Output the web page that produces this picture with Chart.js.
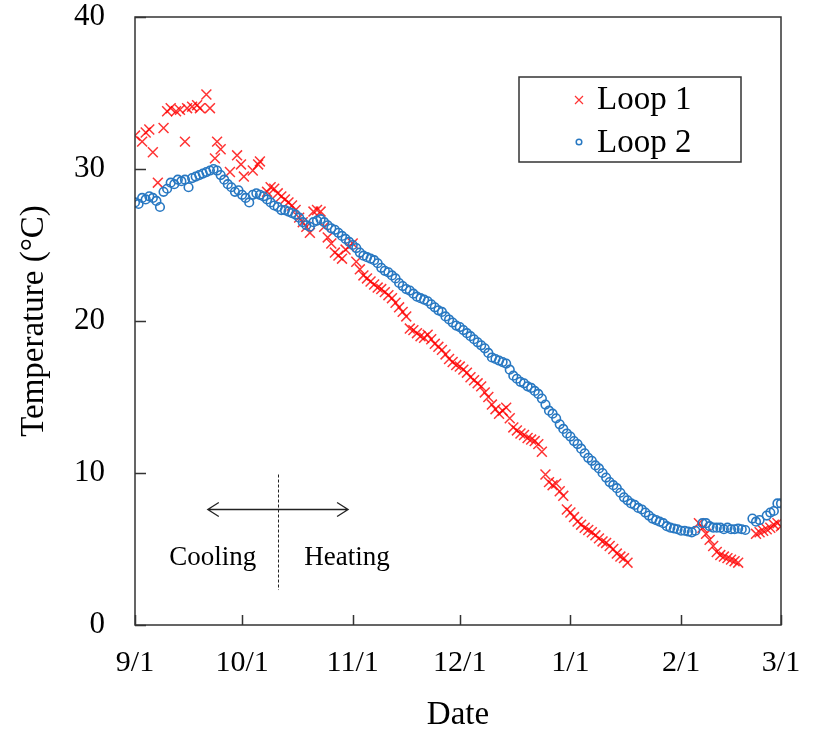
<!DOCTYPE html>
<html>
<head>
<meta charset="utf-8">
<script src="https://cdn.jsdelivr.net/npm/chart.js@4.4.1/dist/chart.umd.min.js"></script>
<style>
  html, body { margin: 0; padding: 0; background: #fff; }
  #wrap { width: 814px; height: 733px; }
</style>
</head>
<body>
<div id="wrap"><canvas id="tempChart" width="814" height="733"></canvas></div>
<script>
// Days counted from 9/1 (day 0) to 3/1 (day 181)
const tickDays = [0, 30, 61, 91, 122, 153, 181];
const tickLabels = ['9/1', '10/1', '11/1', '12/1', '1/1', '2/1', '3/1'];

// Loop 1 readings (day, temperature)
const loop1Days = [0, 2, 3, 4, 5, 6.4, 8, 9, 10, 11.5, 12.6, 14, 14.6, 16, 17.4, 18.2, 20, 21, 22.4, 23,
  24, 26.6, 28.6, 29.7, 30.5, 33, 34.5, 35,
  37, 38, 39, 40, 41, 42, 43, 44, 45, 46, 47, 48, 49, 50, 51, 52, 53, 54, 55, 56, 57, 58, 59, 60,
  61, 62, 63, 64, 65, 66, 67, 68, 69, 70, 71, 72, 73, 74, 75, 76, 77, 78, 79, 80,
  81, 82, 83, 84, 85, 86, 87, 88, 89, 90, 91, 92, 93, 94, 95, 96, 97, 98, 99, 100,
  101, 102, 103, 104, 105, 106, 107, 108, 109, 110, 111, 112, 113, 114, 115, 116, 117, 118, 119, 120,
  121, 122, 123, 124, 125, 126, 127, 128, 129, 130, 131, 132, 133, 134, 135, 136, 137, 138,
  158, 159, 160, 161, 162, 163, 164, 165, 166, 167, 168, 169,
  174, 175, 176, 177, 178, 179, 180, 181];
const loop1Temp = [32.2, 31.8, 32.4, 32.6, 31.1, 29.1, 32.7, 33.8, 34.0, 33.8, 33.9, 31.8, 34.0, 34.1, 34.2, 34.0, 34.9, 34.0, 30.7, 31.8,
  31.3, 29.8, 30.9, 30.3, 29.5, 29.9, 30.3, 30.5,
  28.5, 28.8, 28.7, 28.4, 28.2, 28.0, 27.8, 27.6, 27.3, 26.8, 26.5, 26.2, 25.8, 27.2, 27.3, 27.2, 26.2, 25.5, 25.1, 24.5, 24.3, 24.1, 24.7, 24.9,
  25.1, 23.9, 23.4, 23.0, 22.8, 22.6, 22.4, 22.2, 22.1, 21.9, 21.7, 21.5, 21.2, 20.9, 20.6, 20.3, 19.5, 19.4, 19.2, 19.0,
  18.9, 19.1, 18.8, 18.5, 18.3, 18.1, 17.8, 17.5, 17.3, 17.1, 17.0, 16.8, 16.6, 16.3, 16.1, 15.9, 15.7, 15.3, 15.0, 14.5,
  14.2, 13.9, 14.1, 14.3, 13.6, 13.0, 12.8, 12.6, 12.5, 12.3, 12.2, 12.1, 11.9, 11.4, 9.9, 9.4, 9.2, 9.3, 8.8, 8.5,
  7.6, 7.4, 7.1, 6.8, 6.6, 6.4, 6.25, 6.1, 5.9, 5.7, 5.5, 5.4, 5.2, 5.0, 4.7, 4.5, 4.4, 4.1,
  6.7, 6.4, 6.0, 5.6, 5.2, 4.8, 4.6, 4.5, 4.4, 4.3, 4.2, 4.1,
  6.0, 6.1, 6.2, 6.3, 6.4, 6.6, 6.7, 6.5];

// Loop 2 daily readings, index = day from 9/1 (null = no reading)
const loop2Temp = [
  27.8, 27.7, 28.1, 28.0, 28.2, 28.1, 27.9, 27.5, 28.5, 28.7,
  29.1, 29.0, 29.3, 29.2, 29.3, 28.8, 29.4, 29.5, 29.6, 29.7,
  29.8, 29.9, 30.0, 29.9, 29.6, 29.3, 29.0, 28.8, 28.5, 28.6,
  28.3, 28.1, 27.8, 28.3, 28.4, 28.3, 28.2, 28.0, 27.8, 27.6,
  27.5, 27.3, 27.3, 27.2, 27.1, 27.0, 26.8, 26.5, 26.3, 26.2,
  26.5, 26.6, 26.7, 26.5, 26.3, 26.1, 26.0, 25.8, 25.6, 25.4,
  25.2, 25.0, 24.8, 24.5, 24.3, 24.2, 24.1, 24.0, 23.8, 23.5,
  23.3, 23.2, 23.0, 22.8, 22.5, 22.3, 22.1, 22.0, 21.8, 21.6,
  21.5, 21.4, 21.3, 21.1, 20.9, 20.7, 20.6, 20.3, 20.1, 19.9,
  19.7, 19.6, 19.4, 19.2, 19.0, 18.8, 18.6, 18.4, 18.2, 17.9,
  17.6, 17.5, 17.4, 17.3, 17.2, 16.8, 16.4, 16.2, 16.0, 15.9,
  15.7, 15.6, 15.4, 15.2, 14.9, 14.5, 14.1, 13.9, 13.6, 13.2,
  12.9, 12.6, 12.4, 12.1, 11.9, 11.6, 11.3, 11.0, 10.8, 10.5,
  10.3, 10.0, 9.7, 9.4, 9.2, 9.0, 8.7, 8.4, 8.2, 8.0,
  7.9, 7.7, 7.6, 7.4, 7.2, 7.0, 6.9, 6.8, 6.7, 6.5,
  6.4, 6.35, 6.3, 6.2, 6.2, 6.15, 6.1, 6.2, null, 6.7,
  6.7, 6.5, 6.4, 6.4, 6.4, 6.3, 6.4, 6.3, 6.3, 6.35,
  6.3, 6.25, null, 7.0, 6.8, 6.9, null, 7.2, 7.4, 7.5,
  8.0, 8.0];

// Cooling / Heating annotation, in data units
const switchDay = 40;
const arrowFrom = 20.4, arrowTo = 59.7, arrowTemp = 7.6;
const dashTop = 9.9, dashBottom = 2.3;
const labelTemp = 4.4;

const serif = '"Liberation Serif", "Times New Roman", Times, serif';
const red = 'rgba(255, 0, 0, 0.8)';
const blue = '#2878c2';

const loop1Points = loop1Days.map((d, i) => ({ x: d, y: loop1Temp[i] }));
const loop2Points = loop2Temp.map((t, i) => t === null ? null : { x: i, y: t }).filter(p => p);

const framePlugin = {
  id: 'frame',
  afterDraw(chart) {
    const { ctx, chartArea: a, scales: { x, y } } = chart;
    ctx.save();
    ctx.strokeStyle = '#333';
    ctx.lineWidth = 1.5;
    ctx.strokeRect(a.left, a.top, a.right - a.left, a.bottom - a.top);
    ctx.beginPath();
    tickDays.forEach(d => {
      const px = Math.round(x.getPixelForValue(d)) + 0.5;
      ctx.moveTo(px, a.bottom);
      ctx.lineTo(px, a.bottom - 10);
    });
    y.ticks.forEach(t => {
      const py = Math.round(y.getPixelForValue(t.value)) + 0.5;
      ctx.moveTo(a.left, py);
      ctx.lineTo(a.left + 11, py);
    });
    ctx.stroke();

    // cooling / heating arrow
    const ax1 = x.getPixelForValue(arrowFrom), ax2 = x.getPixelForValue(arrowTo);
    const ay = y.getPixelForValue(arrowTemp);
    ctx.strokeStyle = '#222';
    ctx.lineWidth = 1.3;
    ctx.beginPath();
    ctx.moveTo(ax1, ay); ctx.lineTo(ax2, ay);
    ctx.moveTo(ax1 + 11, ay - 7); ctx.lineTo(ax1, ay); ctx.lineTo(ax1 + 11, ay + 7);
    ctx.moveTo(ax2 - 11, ay - 7); ctx.lineTo(ax2, ay); ctx.lineTo(ax2 - 11, ay + 7);
    ctx.stroke();

    const sx = Math.round(x.getPixelForValue(switchDay)) + 0.5;
    ctx.setLineDash([3, 2]);
    ctx.lineWidth = 1;
    ctx.beginPath();
    ctx.moveTo(sx, y.getPixelForValue(dashTop));
    ctx.lineTo(sx, y.getPixelForValue(dashBottom));
    ctx.stroke();
    ctx.setLineDash([]);

    ctx.fillStyle = '#000';
    ctx.font = '27px ' + serif;
    ctx.textAlign = 'center';
    ctx.textBaseline = 'middle';
    const ly = y.getPixelForValue(labelTemp);
    ctx.fillText('Cooling', x.getPixelForValue(arrowFrom + 1.4), ly);
    ctx.fillText('Heating', x.getPixelForValue(arrowTo - 0.3), ly);

    // legend box
    const lx = a.left + 384, ly0 = a.top + 60, lw = 222, lh = 85;
    ctx.strokeStyle = '#333';
    ctx.lineWidth = 1.5;
    ctx.strokeRect(lx, ly0, lw, lh);
    const mx = lx + 60;
    ctx.strokeStyle = red;
    ctx.lineWidth = 1.2;
    ctx.beginPath();
    ctx.moveTo(mx - 4, ly0 + 19); ctx.lineTo(mx + 4, ly0 + 27);
    ctx.moveTo(mx + 4, ly0 + 19); ctx.lineTo(mx - 4, ly0 + 27);
    ctx.stroke();
    ctx.strokeStyle = blue;
    ctx.lineWidth = 1.5;
    ctx.beginPath();
    ctx.arc(mx, ly0 + 65, 2.8, 0, Math.PI * 2);
    ctx.stroke();
    ctx.fillStyle = '#000';
    ctx.font = '33px ' + serif;
    ctx.textAlign = 'left';
    ctx.fillText('Loop 1', lx + 78, ly0 + 23);
    ctx.fillText('Loop 2', lx + 78, ly0 + 66);
    ctx.restore();
  }
};

new Chart(document.getElementById('tempChart'), {
  type: 'scatter',
  data: {
    datasets: [{
      label: 'Loop 1',
      data: loop1Points,
      pointStyle: 'crossRot',
      pointRadius: 7,
      borderColor: red,
      borderWidth: 1.5,
      order: 1
    }, {
      label: 'Loop 2',
      data: loop2Points,
      pointStyle: 'circle',
      pointRadius: 4.3,
      borderColor: blue,
      backgroundColor: 'rgba(0,0,0,0)',
      borderWidth: 1.6,
      order: 0
    }]
  },
  options: {
    responsive: false,
    animation: false,
    layout: { padding: { top: 17, right: 33, left: 0, bottom: 0 } },
    plugins: {
      legend: { display: false },
      tooltip: { enabled: false }
    },
    scales: {
      x: {
        type: 'linear',
        min: 0,
        max: 181,
        grid: { display: false, drawTicks: false },
        border: { display: false },
        afterBuildTicks: s => { s.ticks = tickDays.map(v => ({ value: v })); },
        ticks: {
          callback: (v, i) => tickLabels[i],
          padding: 20,
          maxRotation: 0,
          autoSkip: false,
          color: '#000',
          font: { family: serif, size: 30 }
        },
        title: {
          display: true,
          text: 'Date',
          color: '#000',
          font: { family: serif, size: 33 },
          padding: { top: 0, bottom: -2 }
        },
        afterFit: s => { s.height = 108; s.paddingLeft = 0; s.paddingRight = 0; }
      },
      y: {
        min: 0,
        max: 40,
        grid: { display: false, drawTicks: false },
        border: { display: false },
        ticks: {
          stepSize: 10,
          padding: 30,
          color: '#000',
          font: { family: serif, size: 31 }
        },
        title: {
          display: true,
          text: 'Temperature (°C)',
          color: '#000',
          font: { family: serif, size: 33 },
          padding: { top: 15, bottom: 0 }
        },
        afterFit: s => { s.width = 135; s.paddingTop = 0; s.paddingBottom = 0; }
      }
    }
  },
  plugins: [framePlugin]
});
</script>
</body>
</html>
